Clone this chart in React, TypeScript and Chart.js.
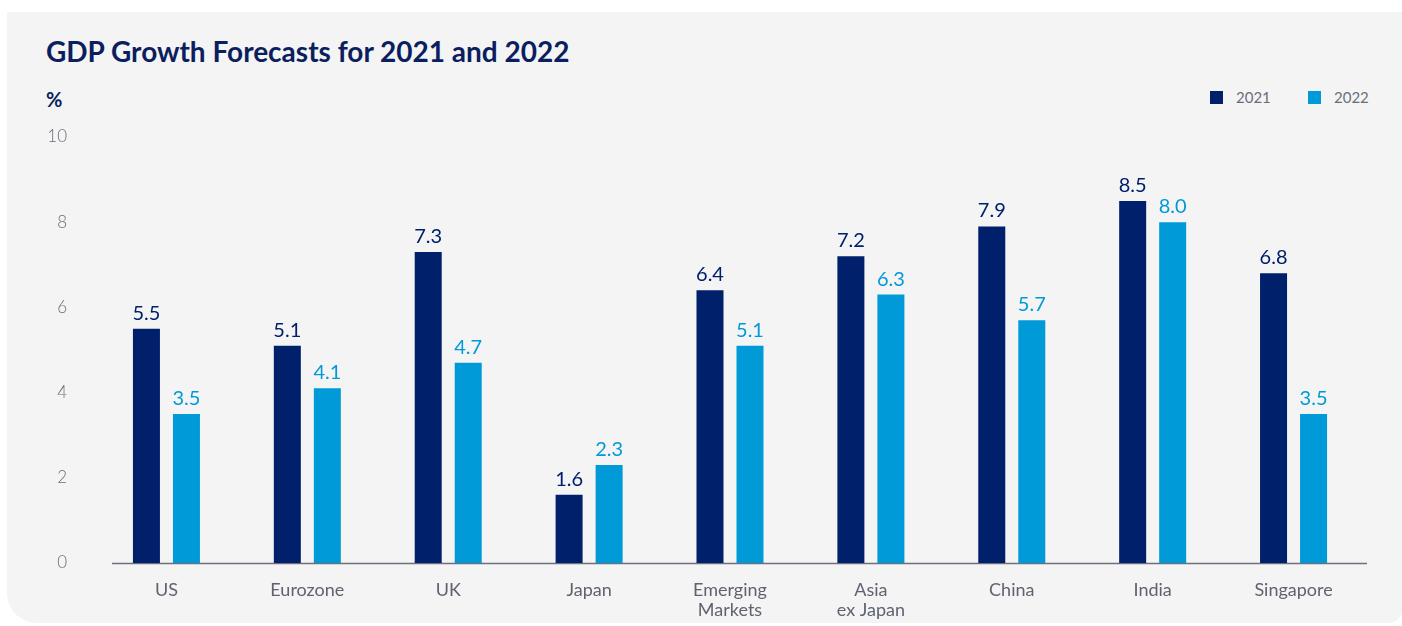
import React, { useEffect, useRef } from "react";
import { Chart, registerables } from "chart.js";

Chart.register(...registerables);

const categories: (string | string[])[] = [
  "US",
  "Eurozone",
  "UK",
  "Japan",
  ["Emerging", "Markets"],
  ["Asia", "ex Japan"],
  "China",
  "India",
  "Singapore",
];
const series2021 = [5.5, 5.1, 7.3, 1.6, 6.4, 7.2, 7.9, 8.5, 6.8];
const series2022 = [3.5, 4.1, 4.7, 2.3, 5.1, 6.3, 5.7, 8.0, 3.5];
const seriesNames = ["2021", "2022"];
const yMin = 0;
const yMax = 10;
const yStep = 2;

const DARK = "#00206b";
const LIGHT = "#009ad9";
const NAVY_TEXT = "#0b1f5e";
const GRAY_TEXT = "#5f6370";
const FONT = "Lato, 'Noto Sans', sans-serif";

const valueLabels = {
  id: "valueLabels",
  afterDatasetsDraw(chart: any) {
    const ctx = chart.ctx;
    chart.data.datasets.forEach((ds: any, i: number) => {
      const meta = chart.getDatasetMeta(i);
      meta.data.forEach((bar: any, j: number) => {
        const v = ds.data[j] as number;
        ctx.save();
        ctx.font = `400 20px ${FONT}`;
        ctx.fillStyle = ds.backgroundColor;
        ctx.textAlign = "center";
        ctx.textBaseline = "alphabetic";
        ctx.fillText(v.toFixed(1), bar.x, bar.y - 9);
        ctx.restore();
      });
    });
  },
};

const baseLine = {
  id: "baseLine",
  beforeDatasetsDraw(chart: any) {
    const { ctx, chartArea } = chart;
    const y = Math.round(chart.scales.y.getPixelForValue(0)) + 0.5;
    ctx.save();
    ctx.strokeStyle = "#6d707b";
    ctx.lineWidth = 1.5;
    ctx.beginPath();
    ctx.moveTo(chartArea.left + 16, y);
    ctx.lineTo(chartArea.right + 3, y);
    ctx.stroke();
    ctx.restore();
  },
};

function GdpChart() {
  const ref = useRef<HTMLCanvasElement>(null);
  useEffect(() => {
    if (!ref.current) return;
    const chart = new Chart(ref.current, {
      type: "bar",
      data: {
        labels: categories,
        datasets: [
          {
            label: seriesNames[0],
            data: series2021,
            backgroundColor: DARK,
            barPercentage: 0.675,
            categoryPercentage: 0.568,
          },
          {
            label: seriesNames[1],
            data: series2022,
            backgroundColor: LIGHT,
            barPercentage: 0.675,
            categoryPercentage: 0.568,
          },
        ],
      },
      options: {
        responsive: false,
        animation: false,
        devicePixelRatio: 1,
        layout: { padding: { left: 0, right: 38, top: 137, bottom: 0 } },
        plugins: {
          legend: { display: false },
          tooltip: { enabled: false },
          title: { display: false },
        },
        scales: {
          x: {
            grid: { display: false, drawTicks: false },
            border: { display: false },
            ticks: {
              color: GRAY_TEXT,
              font: { family: FONT, size: 18, lineHeight: 1.12 },
              padding: 17,
              maxRotation: 0,
              autoSkip: false,
            },
            afterFit(s: any) {
              s.height = 63;
            },
          },
          y: {
            min: yMin,
            max: yMax,
            grid: { display: false, drawTicks: false },
            border: { display: false },
            ticks: {
              stepSize: yStep,
              color: "#6b6e79",
              font: { family: FONT, size: 17, weight: "300" },
              padding: 29,
            },
            afterFit(s: any) {
              s.width = 96;
            },
          },
        },
      },
      plugins: [baseLine, valueLabels],
    });
    return () => chart.destroy();
  }, []);
  return (
    <canvas
      ref={ref}
      width={1402}
      height={626}
      style={{ position: "absolute", left: 0, top: 0, width: 1402, height: 626 }}
    />
  );
}

export default function App() {
  const legendItem = (left: number, color: string, text: string) => (
    <div
      style={{
        position: "absolute",
        left,
        top: 91,
        display: "flex",
        alignItems: "center",
        height: 13,
      }}
    >
      <div style={{ width: 13, height: 13, background: color }} />
      <span
        style={{
          marginLeft: 13,
          fontFamily: FONT,
          fontSize: 15,
          color: "#6b6e79",
          lineHeight: "13px",
        }}
      >
        {text}
      </span>
    </div>
  );
  return (
    <div
      style={{
        position: "fixed",
        left: 0,
        top: 0,
        width: 1402,
        height: 626,
        background: "#ffffff",
        overflow: "hidden",
      }}
    >
      <div
        style={{
          position: "absolute",
          left: 7,
          top: 12,
          right: 0,
          bottom: 3,
          background: "#f4f4f4",
          borderRadius: "0 0 13px 30px",
        }}
      />
      <div
        style={{
          position: "absolute",
          left: 46,
          top: 37,
          fontFamily: FONT,
          fontWeight: 700,
          fontSize: 28,
          lineHeight: "28px",
          color: NAVY_TEXT,
          whiteSpace: "nowrap",
        }}
      >
        GDP Growth Forecasts for 2021 and 2022
      </div>
      <div
        style={{
          position: "absolute",
          left: 46,
          top: 89,
          fontFamily: FONT,
          fontWeight: 700,
          fontSize: 20,
          lineHeight: "20px",
          color: NAVY_TEXT,
        }}
      >
        %
      </div>
      {legendItem(1210, DARK, seriesNames[0])}
      {legendItem(1308, LIGHT, seriesNames[1])}
      <GdpChart />
    </div>
  );
}
